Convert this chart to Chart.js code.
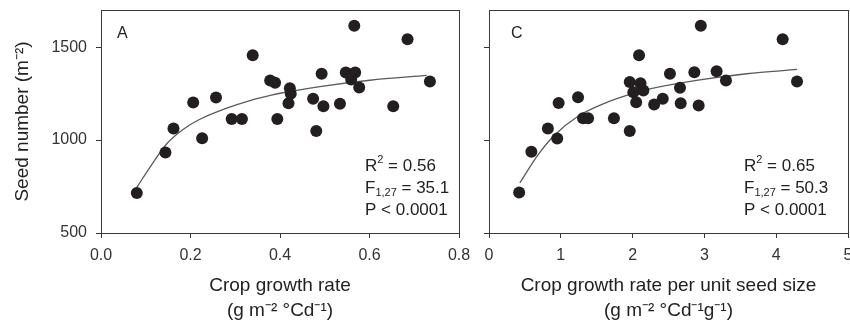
<!DOCTYPE html>
<html><head><meta charset="utf-8">
<script src="https://cdn.jsdelivr.net/npm/chart.js@4/dist/chart.umd.min.js"></script>
<style>
html,body{margin:0;padding:0;background:#fff;overflow:hidden;width:850px;height:324px;position:relative;}
#cl{position:absolute;left:0;top:0;}
#cr{position:absolute;left:475px;top:0;}
</style></head><body>
<canvas id="cl" width="475" height="324"></canvas>
<canvas id="cr" width="400" height="324"></canvas>
<script>
// ---- Data: panel A (crop growth rate) ----
const cgrX  = [0.080,0.144,0.162,0.206,0.226,0.257,0.292,0.315,0.339,0.378,0.389,0.394,0.422,0.424,0.419,0.474,0.481,0.493,0.497,0.534,0.547,0.568,0.559,0.577,0.566,0.653,0.685,0.735];
const seedA = [715,933,1062,1202,1010,1229,1114,1114,1457,1321,1308,1114,1279,1249,1198,1222,1049,1357,1182,1195,1364,1364,1326,1283,1615,1182,1543,1315];
const fitAX = [0.080,0.110,0.147,0.184,0.221,0.281,0.333,0.378,0.400,0.489,0.601,0.728];
const fitAY = [745,856,980,1058,1112,1172,1213,1240,1252,1288,1322,1348];
// ---- Data: panel C (crop growth rate per unit seed size) ----
const cgrsX = [0.42,0.59,0.82,0.97,0.95,1.24,1.31,1.38,1.74,1.96,2.09,1.96,2.11,2.01,2.15,2.05,2.30,2.42,2.52,2.66,2.67,2.86,2.95,2.92,3.17,3.30,4.09,4.29];
const seedC = [718,937,1062,1200,1009,1231,1117,1117,1117,1049,1457,1312,1306,1258,1267,1204,1192,1222,1357,1281,1198,1365,1615,1186,1371,1321,1543,1315];
const fitCX = [0.43,0.68,0.915,1.24,1.61,1.94,2.24,2.89,3.59,4.29];
const fitCY = [770,919,1027,1128,1198,1243,1275,1321,1357,1380];
// ---- Ticks ----
const xTicksA = [0,0.2,0.4,0.6,0.8];
const xTicksC = [0,1,2,3,4,5];
const yTicks  = [500,1000,1500];
const yMin = 500, yMax = 1700;

const FAM = '"Liberation Sans", Arial, Helvetica, sans-serif';
const INK = '#231f20';

function richText(ctx, x, y, parts) {
  let cx = x;
  for (const [t, size, dy] of parts) {
    ctx.font = size + 'px ' + FAM;
    ctx.fillText(t, cx, y + dy);
    cx += ctx.measureText(t).width;
  }
}

function noPad(s) { s.paddingTop = 0; s.paddingBottom = 0; s.paddingLeft = 0; s.paddingRight = 0; }

const framePlugin = {
  id: 'frame',
  beforeDatasetsDraw(chart) {
    const {ctx, chartArea: a} = chart;
    ctx.save();
    ctx.strokeStyle = '#3a3a3a';
    ctx.lineWidth = 1;
    ctx.strokeRect(Math.round(a.left) + 0.5, Math.round(a.top) + 0.5, Math.round(a.right - a.left), Math.round(a.bottom - a.top));
    ctx.restore();
  },
  afterDraw(chart, args, opts) {
    const ctx = chart.ctx;
    ctx.save();
    ctx.fillStyle = '#222';
    ctx.textBaseline = 'middle';
    ctx.textAlign = 'left';
    ctx.font = '16px ' + FAM;
    ctx.fillText(opts.letter, opts.lx, 34);
    const sx = opts.sx;
    richText(ctx, sx, 166, [['R', 17, 0], ['2', 11, -6], [' = ' + opts.r2, 17, 0]]);
    richText(ctx, sx, 188, [['F', 17, 0], ['1,27', 11, 5], [' = ' + opts.f, 17, 0]]);
    richText(ctx, sx, 210, [['P < 0.0001', 17, 0]]);
    ctx.restore();
  }
};

function pts(xs, ys) { return xs.map((x, i) => ({x: x, y: ys[i]})); }

function build(id, o) {
  return new Chart(document.getElementById(id), {
    type: 'scatter',
    data: { datasets: [
      { type: 'line', data: pts(o.fx, o.fy), borderColor: '#5a5a5a', borderWidth: 1.3, pointRadius: 0,
        cubicInterpolationMode: 'monotone', fill: false, order: 2 },
      { type: 'scatter', data: pts(o.px, o.py), backgroundColor: INK, borderWidth: 0, pointRadius: 6, order: 1 }
    ]},
    options: {
      responsive: false, animation: false, devicePixelRatio: 1,
      layout: { padding: { left: 0, right: o.padR, top: 10, bottom: 0 } },
      plugins: { legend: { display: false }, tooltip: { enabled: false },
        frame: { letter: o.letter, lx: o.lx, sx: o.sx, r2: o.r2, f: o.f } },
      scales: {
        x: {
          type: 'linear', min: o.xmin, max: o.xmax,
          afterBuildTicks: s => { s.ticks = o.xt.map(v => ({value: v})); },
          afterFit: s => { s.height = 91; noPad(s); },
          grid: { display: true, drawOnChartArea: false, drawTicks: true, tickLength: 5, color: '#333' },
          border: { display: false },
          ticks: { padding: 8, color: '#333', font: { size: 16, family: FAM }, maxRotation: 0, autoSkip: false,
                   callback: v => o.fmt(v) },
          title: { display: true, text: o.xtitle, color: '#222', font: { size: 19, family: FAM, lineHeight: 1.3 },
                   padding: { top: 0, bottom: 1 } }
        },
        y: {
          type: 'linear', min: yMin, max: yMax,
          afterBuildTicks: s => { s.ticks = yTicks.map(v => ({value: v})); },
          afterFit: s => { s.width = o.yw; noPad(s); },
          grid: { display: true, drawOnChartArea: false, drawTicks: true, tickLength: 5, color: '#333' },
          border: { display: false },
          ticks: { display: o.ylabels, padding: 9, color: '#333', font: { size: 16, family: FAM },
                   callback: v => String(v) },
          title: { display: o.ylabels, text: 'Seed number (m\u207B\u00B2)', color: '#222',
                   font: { size: 19, family: FAM }, padding: { top: 11, bottom: 0 } }
        }
      }
    },
    plugins: [framePlugin]
  });
}

build('cl', {
  fx: fitAX, fy: fitAY, px: cgrX, py: seedA, padR: 16, xmin: 0, xmax: 0.8, xt: xTicksA,
  fmt: v => v.toFixed(1), xtitle: ['Crop growth rate', '(g m\u207B\u00B2 \u00B0Cd\u207B\u00B9)'],
  yw: 101, ylabels: true, letter: 'A', lx: 117, sx: 365, r2: '0.56', f: '35.1'
});
build('cr', {
  fx: fitCX, fy: fitCY, px: cgrsX, py: seedC, padR: 27, xmin: 0, xmax: 5, xt: xTicksC,
  fmt: v => String(v), xtitle: ['Crop growth rate per unit seed size', '(g m\u207B\u00B2 \u00B0Cd\u207B\u00B9g\u207B\u00B9)'],
  yw: 14, ylabels: false, letter: 'C', lx: 36, sx: 269, r2: '0.65', f: '50.3'
});
</script>
</body></html>
